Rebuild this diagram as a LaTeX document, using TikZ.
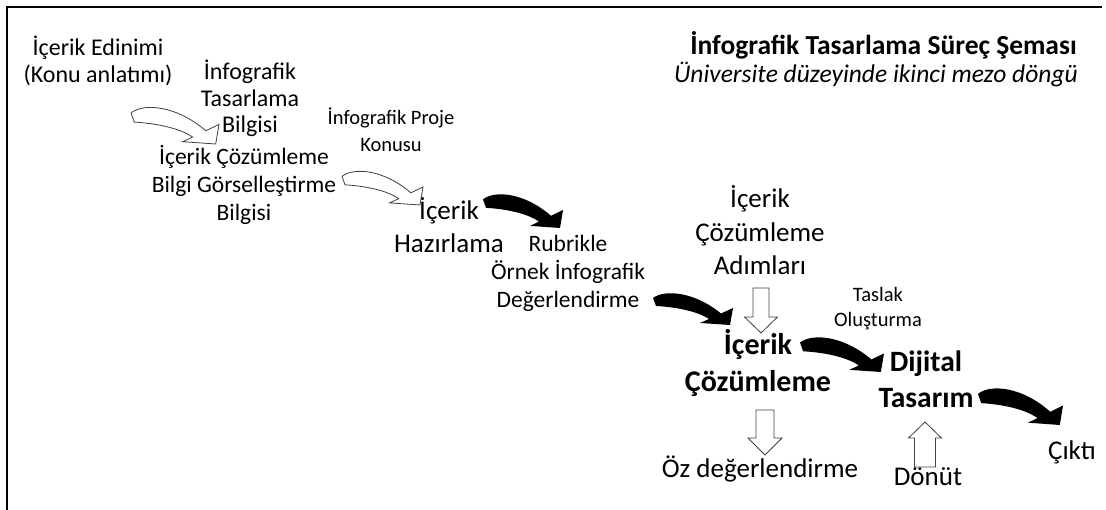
\documentclass[tikz,border=0pt]{standalone}
\usepackage{fontspec}
\setmainfont{Carlito}
\begin{document}
\begin{tikzpicture}[x=1pt,y=-1pt,
  % multi-line labels are placed by the baseline of their last line
  lbl/.style={align=center, inner sep=0pt, anchor=base},
  fs/.style 2 args={font=\fontsize{#1}{#2}\selectfont},
  hollowarrow/.style={fill=white, draw=black!75, line width=0.8pt, line join=miter},
  inkarrow/.style={fill=black},
  frameline/.style={line width=2.4pt},
  bendarrow/.pic={
    \path[pic actions] (0,6) .. controls (12,-3) and (42,0) .. (68,21.5)
      -- (80,16) -- (77,33) -- (47,31) -- (56,27)
      .. controls (44,19) and (22,15) .. (3,14) -- cycle;
  }]
\useasboundingbox (0,0) rectangle (1106,510);

% open frame: left and top edges only
\draw[frameline] (7,510) -- (7,7) -- (1102,7);

% heading
\node[lbl, anchor=base east, font=\bfseries\fontsize{27.5}{30}\selectfont] (title) at (1077,55) {İnfografik Tasarlama Süreç Şeması};
\node[lbl, anchor=base east, font=\itshape\fontsize{25.5}{30}\selectfont] (subtitle) at (1078,83) {Üniversite düzeyinde ikinci mezo döngü};

% process labels
\node[lbl, fs={24}{27}] (edinim) at (98,83) {İçerik Edinimi\\(Konu anlatımı)};
\node[lbl, fs={24}{26.5}] (tasbilgi) at (250,133) {İnfografik\\Tasarlama\\Bilgisi};
\node[lbl, fs={23.5}{28}] (cozbilgi) at (244,221) {İçerik Çözümleme\\Bilgi Görselleştirme\\Bilgisi};
\node[lbl, fs={20.5}{27}] (proje) at (391,152) {İnfografik Proje\\Konusu};
\node[lbl, fs={27}{33}] (hazir) at (449,253) {İçerik\\Hazırlama};
\node[lbl, fs={23.5}{28}] (rubrik) at (568,308) {Rubrikle\\Örnek İnfografik\\Değerlendirme};
\node[lbl, fs={27}{33.5}] (adim) at (760,275) {İçerik\\Çözümleme\\Adımları};
\node[lbl, fs={20.5}{25}] (taslak) at (878,327) {Taslak\\Oluşturma};
\node[lbl, font=\bfseries\fontsize{30}{37}\selectfont] (cozum) at (758,392) {İçerik\\Çözümleme};
\node[lbl, font=\bfseries\fontsize{29.5}{36}\selectfont] (dijital) at (926,408) {Dijital\\Tasarım};
\node[lbl, fs={27}{32}] (oz) at (760,477) {Öz değerlendirme};
\node[lbl, fs={27}{32}] (donut) at (928,485) {Dönüt};
\node[lbl, fs={27}{32}] (cikti) at (1072,460) {Çıktı};

% curved block arrows (placed by their top-left corner, scaled from an 80x33 shape)
\pic[hollowarrow, xscale=88/80, yscale=38/33] at (131,106) {bendarrow};
\pic[hollowarrow, xscale=81/80, yscale=35/33] at (342,170) {bendarrow};
\pic[inkarrow, xscale=80/80, yscale=35/33] at (483,193) {bendarrow};
\pic[inkarrow, xscale=80/80, yscale=33/33] at (653,292) {bendarrow};
\pic[inkarrow, xscale=84/80, yscale=36/33] at (800,336) {bendarrow};
\pic[inkarrow, xscale=85/80, yscale=38/33] at (978,387) {bendarrow};

% straight block arrows: centre x, tail y, head-base y, tip y, half shaft, half head
\newcommand\blockarrow[6]{%
  \path[hollowarrow] ({#1-#5},#2) -- ({#1-#5},#3) -- ({#1-#6},#3) -- (#1,#4)
    -- ({#1+#6},#3) -- ({#1+#5},#3) -- ({#1+#5},#2) -- cycle;}
\blockarrow{761}{288}{317}{333}{8}{16.5}
\blockarrow{765}{410}{438}{455}{9}{17}
\blockarrow{925}{467}{438}{422}{10.5}{16.5}
\end{tikzpicture}
\end{document}
